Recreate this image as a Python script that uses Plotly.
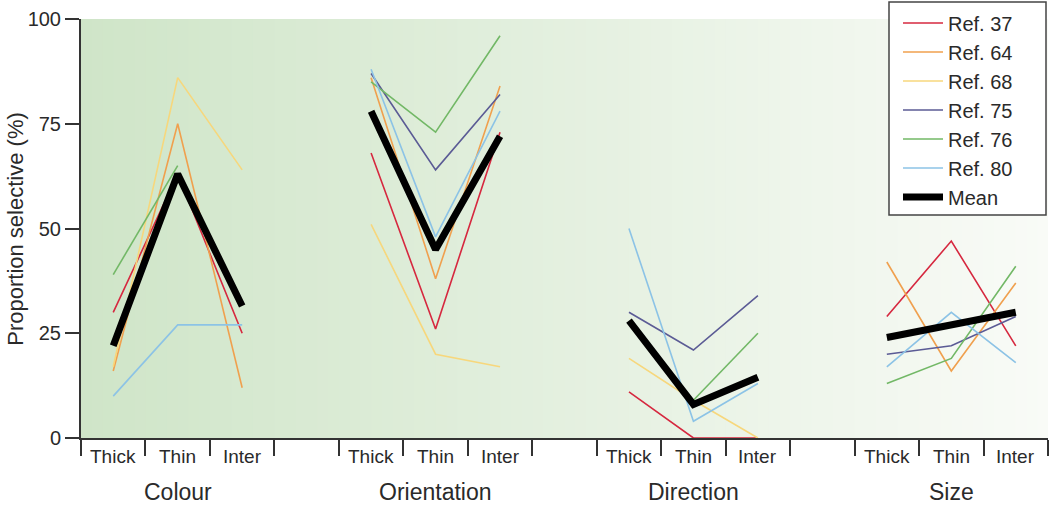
import plotly.graph_objects as go

# ---- data ----
groups = ["Colour", "Orientation", "Direction", "Size"]
pathways = ["Thick", "Thin", "Inter"]
y_ticks = [0, 25, 50, 75, 100]
y_ticktext = ["0", "25", "50", "75", "100"]

ref37 = [[30, 63, 25], [68, 26, 73], [11, 0, 0], [29, 47, 22]]
ref64 = [[16, 75, 12], [86, 38, 84], [None, None, None], [42, 16, 37]]
ref68 = [[17, 86, 64], [51, 20, 17], [19, 9, 0], [None, None, None]]
ref75 = [[None, None, None], [87, 64, 82], [30, 21, 34], [20, 22, 29]]
ref76 = [[39, 65, None], [85, 73, 96], [None, 9, 25], [13, 19, 41]]
ref80 = [[10, 27, 27], [88, 48, 78], [50, 4, 13], [17, 30, 18]]
mean = [[22, 63, 31.5], [78, 45, 72], [28, 8, 14.5], [24, 27, 30]]

series = [
    ("Ref. 37", ref37, "#d6283f", 1.6),
    ("Ref. 64", ref64, "#f0a04e", 1.6),
    ("Ref. 68", ref68, "#f7d77c", 1.6),
    ("Ref. 75", ref75, "#5b5b95", 1.6),
    ("Ref. 76", ref76, "#72b866", 1.6),
    ("Ref. 80", ref80, "#8cc3e6", 1.6),
    ("Mean", mean, "#000000", 7),
]

GROUP_SPAN = len(pathways) + 1  # three categories plus a blank slot


def build_xy(vals):
    xs, ys = [], []
    for g, gvals in enumerate(vals):
        for p, v in enumerate(gvals):
            xs.append(g * GROUP_SPAN + p + 0.5)
            ys.append(v)
        xs.append(None)
        ys.append(None)
    return xs, ys


fig = go.Figure()
for name, vals, color, width in series:
    xs, ys = build_xy(vals)
    fig.add_trace(go.Scatter(
        x=xs, y=ys, mode="lines", name=name,
        line=dict(color=color, width=width),
        connectgaps=False, hoverinfo="skip",
    ))

x_max = len(groups) * GROUP_SPAN - 1

# background gradient (green fading to white)
N = 90
left = (207, 229, 200)
right = (249, 251, 247)
shapes = []
for i in range(N):
    t = (i + 0.5) / N
    c = tuple(int(round(left[k] + (right[k] - left[k]) * t)) for k in range(3))
    shapes.append(dict(
        type="rect", xref="x", yref="paper",
        x0=x_max * i / N, x1=x_max * (i + 1) / N + 0.02, y0=0, y1=1,
        fillcolor="rgb(%d,%d,%d)" % c, line=dict(width=0), layer="below",
    ))

# legend box (drawn as a shape so it can be wider than plotly's auto box)
shapes.append(dict(
    type="rect", xref="paper", yref="paper",
    x0=(889 - 81) / 967, x1=(1046 - 81) / 967,
    y0=(438 - 215) / 419, y1=(438 - 2) / 419,
    fillcolor="white", line=dict(color="#444444", width=1.5), layer="above",
))

annotations = []
for g, gname in enumerate(groups):
    for p, pname in enumerate(pathways):
        annotations.append(dict(
            x=g * GROUP_SPAN + p + 0.5, y=-0.043, xref="x", yref="paper",
            text=pname, showarrow=False, yanchor="middle", xanchor="center",
            font=dict(size=19, color="#2a2a2a"),
        ))
    annotations.append(dict(
        x=g * GROUP_SPAN + 1.5, y=-0.129, xref="x", yref="paper",
        text=gname, showarrow=False, yanchor="middle", xanchor="center",
        font=dict(size=23, color="#2a2a2a"),
    ))
annotations.append(dict(
    x=-0.068, y=0.5, xref="paper", yref="paper", text="Proportion selective (%)",
    textangle=-90, showarrow=False, xanchor="center", yanchor="middle",
    font=dict(size=22, color="#2a2a2a"),
))

fig.update_layout(
    width=1050, height=518,
    margin=dict(l=81, r=2, t=19, b=80, autoexpand=False),
    paper_bgcolor="white", plot_bgcolor="white",
    font=dict(family="Liberation Sans, Arial, sans-serif", color="#2a2a2a"),
    shapes=shapes, annotations=annotations,
    showlegend=True,
    legend=dict(
        xref="container", yref="container",
        x=898 / 1050, y=1 - 3.5 / 518, xanchor="left", yanchor="top",
        bgcolor="rgba(0,0,0,0)", borderwidth=0,
        font=dict(size=20, color="#2a2a2a"), itemwidth=40,
    ),
    xaxis=dict(
        range=[0, x_max], tickvals=list(range(0, x_max + 1)), showticklabels=False,
        ticks="outside", ticklen=16, tickwidth=1.5, tickcolor="#333333",
        showline=True, linecolor="#333333", linewidth=2, showgrid=False,
        zeroline=False, layer="below traces", automargin=False,
    ),
    yaxis=dict(
        range=[0, 100], tickvals=y_ticks, ticktext=y_ticktext,
        ticks="outside", ticklen=14, tickwidth=1.5, tickcolor="#333333",
        showline=True, linecolor="#333333", linewidth=2, showgrid=False,
        zeroline=False, tickfont=dict(size=20, color="#2a2a2a"), automargin=False,
    ),
)

fig.write_html(
    "out.html",
    config={"displayModeBar": False},
    post_script="document.body.style.margin='0';document.body.style.padding='0';",
)
